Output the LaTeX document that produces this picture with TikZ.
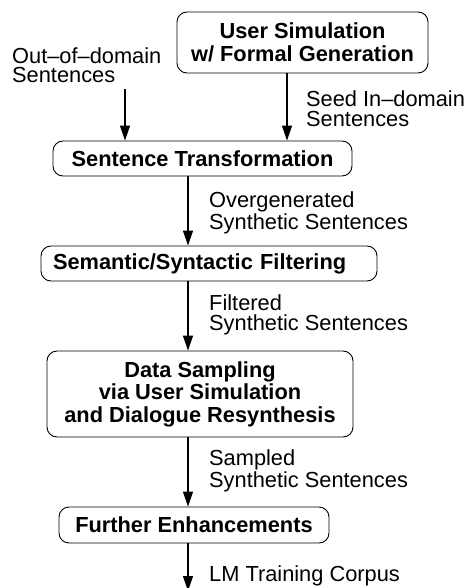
\documentclass[tikz,border=0pt]{standalone}
\usepackage{fontspec}
\setmainfont{Liberation Sans}
\usepackage{xcolor}
\usepackage{tikz}
\usetikzlibrary{arrows.meta, calc}

\tikzset{
    stage/.style={draw, rounded corners=10pt, line width=0.9pt, inner sep=0pt,
        align=center, font=\fontsize{21.8}{22.5}\selectfont\bfseries},
    note/.style={inner sep=0pt, anchor=base west, align=left,
        font=\fontsize{21.8}{19.6}\selectfont},
    flow/.style={line width=1.3pt, -{Triangle[length=15pt, width=10pt]}},
}

\begin{document}
\begin{tikzpicture}[x=1pt, y=-1pt]

    %% Page frame (pixel grid of the reference, y downwards)
    \useasboundingbox (0,0) rectangle (468,588);

    %% --- Stages ---
    \node[stage, minimum width=251pt, minimum height=61pt] (usersim) at (302.5, 42.5)
        {User Simulation\\w/ Formal Generation};
    \node[stage, minimum width=299pt, minimum height=35pt] (transform) at (202.5, 158.5)
        {Sentence Transformation};
    \node[stage, text width=312pt, inner xsep=12pt, align=left, minimum height=35pt] (filter) at (209, 263.5)
        {Semantic/Syntactic Filtering};
    \node[stage, minimum width=306pt, minimum height=86pt] (sampling) at (200, 394)
        {Data Sampling\\via User Simulation\\and Dialogue Resynthesis};
    \node[stage, minimum width=270pt, minimum height=36pt] (enhance) at (194, 525)
        {Further Enhancements};

    %% --- Free ends and arrow columns ---
    \coordinate (ood) at (125, 89);      % out-of-domain input
    \coordinate (seed) at (287, 0);      % column of the seed arrow
    \coordinate (spine) at (188, 0);     % main column
    \coordinate (corpus) at (188, 591);  % output, runs off the page

    %% --- Arrows ---
    \draw[flow] (ood) -- (ood |- transform.north);
    \draw[flow] (usersim.south -| seed) -- (transform.north -| seed);
    \draw[flow] (transform.south -| spine) -- (filter.north -| spine);
    \draw[flow] (filter.south -| spine) -- (sampling.north -| spine);
    \draw[flow] (sampling.south -| spine) -- (enhance.north -| spine);
    \draw[flow] (enhance.south -| spine) -- (corpus);

    %% --- Labels (base = last line) ---
    \node[note] (oodtext) at (12, 82.7) {Out--of--domain\\Sentences};
    \node[note] (seedtext) at (306, 126.5) {Seed In--domain\\Sentences};
    \node[note] (overtext) at (209, 229.3) {Overgenerated\\Synthetic Sentences};
    \node[note] (filttext) at (209, 330.5) {Filtered\\Synthetic Sentences};
    \node[note] (samptext) at (209, 487.3) {Sampled\\Synthetic Sentences};
    \node[note] (corptext) at (209, 581) {LM Training Corpus};

\end{tikzpicture}
\end{document}
